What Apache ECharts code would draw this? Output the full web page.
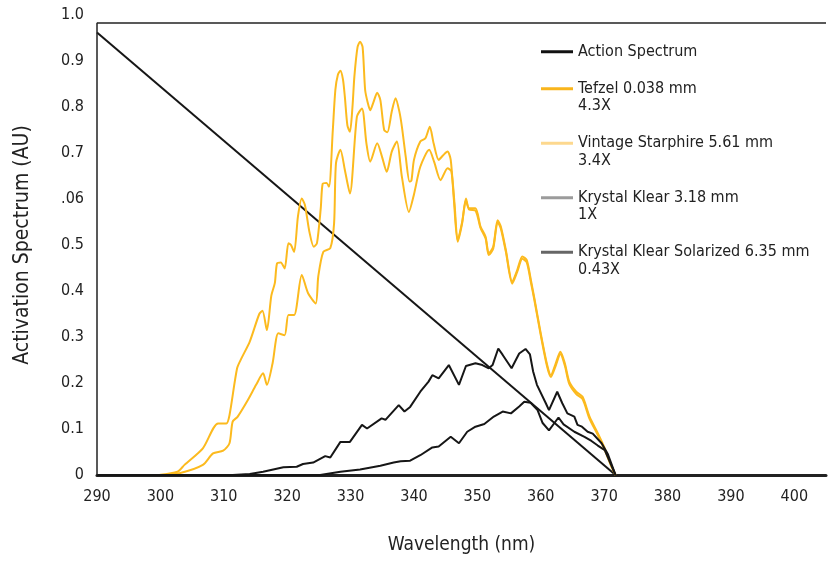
<!DOCTYPE html>
<html>
<head>
<meta charset="utf-8">
<script src="https://cdn.jsdelivr.net/npm/echarts@6/dist/echarts.min.js"></script>
<style>
  html, body { margin: 0; padding: 0; background: #fff; }
  #chart { width: 828px; height: 561px; }
</style>
</head>
<body>
<div id="chart"></div>
<script>
const FONT = "'Liberation Sans Narrow', 'DejaVu Sans Condensed', 'Roboto', sans-serif";

// y tick labels, as printed (".06" typo kept)
const yTickLabels = ["0", "0.1", "0.2", "0.3", "0.4", "0.5", ".06", "0.7", "0.8", "0.9", "1.0"];

const seriesNames = [
  "Action Spectrum",
  "Tefzel 0.038 mm\n4.3X",
  "Vintage Starphire 5.61 mm\n3.4X",
  "Krystal Klear 3.18 mm\n1X",
  "Krystal Klear Solarized 6.35 mm\n0.43X"
];

// [wavelength nm, activation]
const actionSpectrum = [[290, 0.962], [371.8, 0]];

const tefzel = [
  [299.8, 0], [302.7, 0.007], [303.8, 0.022], [306.7, 0.058], [309.1, 0.112], [310.4, 0.112],
  [310.9, 0.13], [312.1, 0.232], [312.8, 0.254], [314.1, 0.29], [315.6, 0.35], [316.1, 0.357],
  [316.8, 0.315], [317.5, 0.39], [318.05, 0.417], [318.4, 0.46], [319.0, 0.462], [319.6, 0.449],
  [320.2, 0.504], [320.6, 0.5], [321.1, 0.485], [321.7, 0.562], [322.3, 0.601], [322.8, 0.587],
  [323.5, 0.529], [324.2, 0.496], [324.7, 0.504], [325.3, 0.58], [325.6, 0.633], [326.2, 0.635],
  [326.6, 0.627], [327.2, 0.75], [327.6, 0.837], [328.0, 0.87], [328.4, 0.879], [328.8, 0.86],
  [329.1, 0.822], [329.5, 0.76], [329.9, 0.746], [330.3, 0.8], [330.6, 0.866], [331.1, 0.93],
  [331.5, 0.942], [331.9, 0.93], [332.3, 0.837], [332.7, 0.81], [333.1, 0.793], [333.6, 0.81],
  [334.2, 0.831], [334.7, 0.815], [335.3, 0.75], [335.8, 0.745], [336.5, 0.79], [337.1, 0.819],
  [337.7, 0.79], [338.1, 0.757], [338.7, 0.692], [339.3, 0.638], [339.6, 0.64], [340.0, 0.685],
  [341.0, 0.725], [341.8, 0.732], [342.5, 0.757], [343.1, 0.721], [343.9, 0.685], [344.6, 0.695],
  [345.3, 0.703], [345.8, 0.685], [346.3, 0.598], [346.9, 0.507], [347.6, 0.547], [348.2, 0.601],
  [348.7, 0.58], [349.7, 0.58], [350.5, 0.54], [351.3, 0.518], [351.8, 0.482], [352.5, 0.496],
  [353.2, 0.554], [353.7, 0.54], [354.5, 0.489], [355.5, 0.42], [356.3, 0.446], [357.1, 0.475],
  [357.8, 0.467], [358.5, 0.42], [359.0, 0.384], [360.0, 0.308], [361.0, 0.24], [361.6, 0.217],
  [362.3, 0.24], [363.1, 0.268], [363.8, 0.243], [364.5, 0.203], [365.6, 0.181], [366.6, 0.17],
  [367.7, 0.127], [369.0, 0.091], [370.1, 0.058], [371.1, 0.022], [371.8, 0]
];

const vintageStarphire = [
  [299.8, 0], [303, 0.004], [306.7, 0.022], [308.3, 0.047], [309.9, 0.053], [310.9, 0.069],
  [311.4, 0.116], [312.2, 0.127], [313.8, 0.163], [315.1, 0.196], [316.2, 0.221], [316.8, 0.196],
  [317.7, 0.243], [318.6, 0.308], [319.6, 0.304], [320.2, 0.348], [321.1, 0.348], [322.3, 0.435],
  [323.3, 0.395], [324.5, 0.373], [324.9, 0.431], [325.7, 0.485], [326.8, 0.493], [327.4, 0.547],
  [327.7, 0.678], [328.4, 0.707], [329.1, 0.663], [329.9, 0.612], [331.0, 0.779], [331.8, 0.797],
  [332.5, 0.721], [333.1, 0.681], [334.2, 0.721], [335.0, 0.69], [335.7, 0.659], [336.5, 0.703],
  [337.3, 0.725], [338.1, 0.648], [339.2, 0.572], [340.0, 0.61], [341.0, 0.67], [342.4, 0.707],
  [343.2, 0.68], [344.2, 0.641], [345.3, 0.667], [345.9, 0.66], [346.4, 0.59], [346.9, 0.51],
  [347.6, 0.55], [348.2, 0.597], [348.7, 0.577], [349.7, 0.575], [350.5, 0.537], [351.3, 0.514],
  [351.8, 0.478], [352.5, 0.492], [353.2, 0.55], [353.7, 0.536], [354.5, 0.485], [355.5, 0.416],
  [356.3, 0.442], [357.1, 0.47], [357.8, 0.462], [358.5, 0.415], [359.0, 0.38], [360.0, 0.304],
  [361.0, 0.236], [361.6, 0.213], [362.3, 0.235], [363.1, 0.263], [363.8, 0.238], [364.5, 0.198],
  [365.6, 0.176], [366.6, 0.165], [367.7, 0.122], [369.0, 0.087], [370.1, 0.054], [371.1, 0.02],
  [371.8, 0]
];

const krystalKlear = [
  [290, 0], [311.4, 0], [314.1, 0.002], [316.2, 0.007], [319.4, 0.017], [321.5, 0.018],
  [322.5, 0.024], [324.1, 0.027], [326.0, 0.041], [326.8, 0.038], [328.4, 0.072], [329.9, 0.072],
  [331.8, 0.109], [332.6, 0.101], [334.9, 0.123], [335.5, 0.12], [337.6, 0.152], [338.5, 0.138],
  [339.4, 0.148], [341.0, 0.181], [342.3, 0.203], [342.9, 0.217], [343.9, 0.21], [345.5, 0.239],
  [347.1, 0.196], [348.2, 0.237], [349.7, 0.243], [350.8, 0.239], [351.8, 0.232], [352.4, 0.239],
  [353.3, 0.275], [354.0, 0.261], [355.4, 0.232], [356.6, 0.264], [357.6, 0.274], [358.3, 0.262],
  [358.8, 0.225], [359.4, 0.196], [360.8, 0.156], [361.3, 0.141], [362.6, 0.181], [363.4, 0.156],
  [364.2, 0.134], [365.3, 0.127], [365.8, 0.109], [366.5, 0.105], [367.4, 0.094], [368.2, 0.09],
  [369.6, 0.069], [370.6, 0.045], [371.8, 0]
];

const krystalKlearSolarized = [
  [290, 0], [325.2, 0], [328.4, 0.007], [331.5, 0.012], [334.7, 0.02], [336.8, 0.027],
  [337.9, 0.03], [339.4, 0.031], [341.0, 0.043], [342.9, 0.06], [343.9, 0.062], [345.8, 0.083],
  [347.1, 0.069], [348.4, 0.094], [349.7, 0.105], [351.1, 0.111], [352.6, 0.127], [354.0, 0.138],
  [355.3, 0.134], [356.6, 0.149], [357.4, 0.159], [358.4, 0.157], [359.5, 0.141], [360.3, 0.113],
  [361.3, 0.097], [362.1, 0.112], [362.8, 0.125], [363.6, 0.11], [365.3, 0.094], [366.9, 0.083],
  [368.0, 0.074], [369.0, 0.064], [370.1, 0.054], [371.8, 0]
];

const X_MIN = 290, X_MAX = 405, Y_TOP = 0.983;
const YELLOW = "#FCBA1E";
const INK = "#161616";
const legendColors = ["#111111", "#F9B51C", "#FDD88E", "#9B9B9B", "#666666"];

const chart = echarts.init(document.getElementById("chart"));

function line(name, data, color, smooth) {
  return {
    name: name,
    type: "line",
    data: data,
    showSymbol: false,
    smooth: smooth,
    color: color,
    lineStyle: { color: color, width: 2 },
    z: 3
  };
}

const series = [
  line(seriesNames[0], actionSpectrum, INK, false),
  line(seriesNames[1], tefzel, YELLOW, 0.25),
  line(seriesNames[2], vintageStarphire, YELLOW, 0.25),
  line(seriesNames[3], krystalKlear, INK, false),
  line(seriesNames[4], krystalKlearSolarized, INK, false)
];

// plot frame: left edge and top edge
series[0].markLine = {
  silent: true,
  symbol: "none",
  label: { show: false },
  lineStyle: { color: "#222", width: 1.5, type: "solid" },
  data: [
    [{ coord: [X_MIN, 0] }, { coord: [X_MIN, Y_TOP] }],
    [{ coord: [X_MIN, Y_TOP] }, { coord: [X_MAX, Y_TOP] }]
  ]
};

const LH = 17.5;
chart.setOption({
  animation: false,
  backgroundColor: "#fff",
  textStyle: { fontFamily: FONT },
  grid: { left: 97, right: 2, top: 15, bottom: 86 },
  legend: {
    orient: "vertical",
    left: 541,
    top: 43,
    padding: 0,
    icon: "rect",
    itemWidth: 32,
    itemHeight: 3,
    itemGap: 2,
    // blank first line keeps the icon level with the first text line
    formatter: n => (n.indexOf("\n") >= 0 ? "\n" + n : n),
    textStyle: { fontFamily: FONT, fontSize: 16, color: "#222", lineHeight: LH },
    data: seriesNames.map((n, i) => ({ name: n, itemStyle: { color: legendColors[i] } }))
  },
  xAxis: {
    type: "value",
    min: X_MIN,
    max: X_MAX,
    interval: 10,
    name: "Wavelength (nm)",
    nameLocation: "middle",
    nameGap: 61,
    nameTextStyle: { fontFamily: FONT, fontSize: 19, color: "#222" },
    axisLine: { show: true, lineStyle: { color: "#222", width: 3 } },
    axisTick: { show: false },
    splitLine: { show: false },
    axisLabel: { fontFamily: FONT, fontSize: 16, color: "#222", margin: 14, showMaxLabel: false }
  },
  yAxis: {
    type: "value",
    min: 0,
    max: 1,
    interval: 0.1,
    name: "Activation Spectrum (AU)",
    nameLocation: "middle",
    nameGap: 64,
    nameTextStyle: { fontFamily: FONT, fontSize: 21, color: "#222" },
    axisLine: { show: false },
    axisTick: { show: false },
    splitLine: { show: false },
    axisLabel: {
      fontFamily: FONT, fontSize: 16, color: "#222", margin: 13,
      formatter: v => yTickLabels[Math.round(v * 10)]
    }
  },
  series: series
});
</script>
</body>
</html>
